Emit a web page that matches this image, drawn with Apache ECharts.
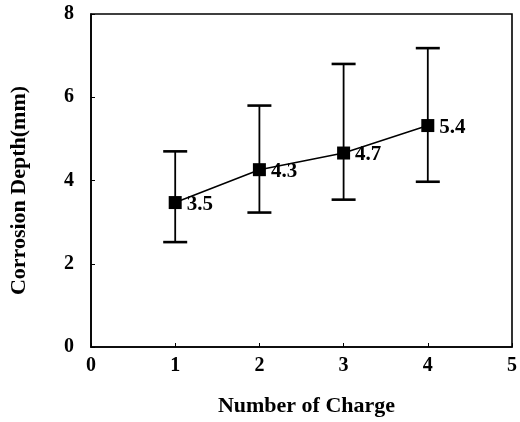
<!DOCTYPE html>
<html>
<head>
<meta charset="utf-8">
<script src="https://cdn.jsdelivr.net/npm/echarts@6/dist/echarts.min.js"></script>
<style>
html,body{margin:0;padding:0;background:#fff;}
#chart{width:520px;height:422px;}
</style>
</head>
<body>
<div id="chart"></div>
<script>
var charges = [1, 2, 3, 4];
var depthLabels = ['3.5', '4.3', '4.7', '5.4'];
var depthPlotted = [3.47, 4.26, 4.66, 5.32];
var errUpper = [4.70, 5.80, 6.80, 7.18];
var errLower = [2.52, 3.23, 3.54, 3.97];
var xTicks = [0, 1, 2, 3, 4, 5];
var yTicks = [0, 2, 4, 6, 8];

var font = 'Liberation Serif';
var chart = echarts.init(document.getElementById('chart'));

var lineData = charges.map(function (c, i) { return [c, depthPlotted[i], depthLabels[i]]; });
var errData = charges.map(function (c, i) { return [c, errLower[i], errUpper[i]]; });

chart.setOption({
  animation: false,
  backgroundColor: '#fff',
  grid: { left: 89, right: 6, top: 14, bottom: 73, show: true, borderColor: '#000', borderWidth: 1.6 },
  xAxis: {
    type: 'value', min: 0, max: 5, interval: 1,
    name: 'Number of Charge', nameLocation: 'middle', nameGap: 48,
    nameTextStyle: { fontFamily: font, fontWeight: 'bold', fontSize: 22, color: '#000', padding: [0, 0, 0, 10] },
    axisLine: { show: true, onZero: false, lineStyle: { color: '#000', width: 1.6 } },
    axisTick: { show: true, inside: true, length: 4, lineStyle: { color: '#000' } },
    axisLabel: { fontFamily: font, fontWeight: 'bold', fontSize: 20, color: '#000', margin: 9,
      formatter: function (v) { return xTicks.indexOf(v) >= 0 ? String(v) : ''; } },
    splitLine: { show: false }
  },
  yAxis: {
    type: 'value', min: 0, max: 8, interval: 2,
    name: 'Corrosion Depth(mm)', nameLocation: 'middle', nameGap: 61,
    nameTextStyle: { fontFamily: font, fontWeight: 'bold', fontSize: 22, color: '#000', padding: [0, 20, 0, 0] },
    axisLine: { show: true, onZero: false, lineStyle: { color: '#000', width: 1.6 } },
    axisTick: { show: true, inside: true, length: 4, lineStyle: { color: '#000' } },
    axisLabel: { fontFamily: font, fontWeight: 'bold', fontSize: 20, color: '#000', margin: 17,
      formatter: function (v) { return yTicks.indexOf(v) >= 0 ? String(v) : ''; } },
    splitLine: { show: false }
  },
  series: [
    {
      type: 'custom',
      data: errData,
      z: 2,
      renderItem: function (params, api) {
        var x = api.value(0);
        var lo = api.coord([x, api.value(1)]);
        var hi = api.coord([x, api.value(2)]);
        var hw = 12;
        var capStyle = { stroke: '#000', lineWidth: 2.6 };
        return {
          type: 'group',
          children: [
            { type: 'line', shape: { x1: hi[0], y1: hi[1], x2: lo[0], y2: lo[1] }, style: { stroke: '#000', lineWidth: 1.8 } },
            { type: 'line', shape: { x1: hi[0] - hw, y1: hi[1], x2: hi[0] + hw, y2: hi[1] }, style: capStyle },
            { type: 'line', shape: { x1: lo[0] - hw, y1: lo[1], x2: lo[0] + hw, y2: lo[1] }, style: capStyle }
          ]
        };
      }
    },
    {
      type: 'line',
      data: lineData,
      z: 3,
      symbol: 'rect',
      symbolSize: 13,
      itemStyle: { color: '#000' },
      lineStyle: { color: '#000', width: 1.5 },
      label: {
        show: true, position: 'right', distance: 5, offset: [0, 2],
        fontFamily: font, fontWeight: 'bold', fontSize: 21, color: '#000',
        formatter: function (p) { return p.data[2]; }
      }
    }
  ]
});
</script>
</body>
</html>
